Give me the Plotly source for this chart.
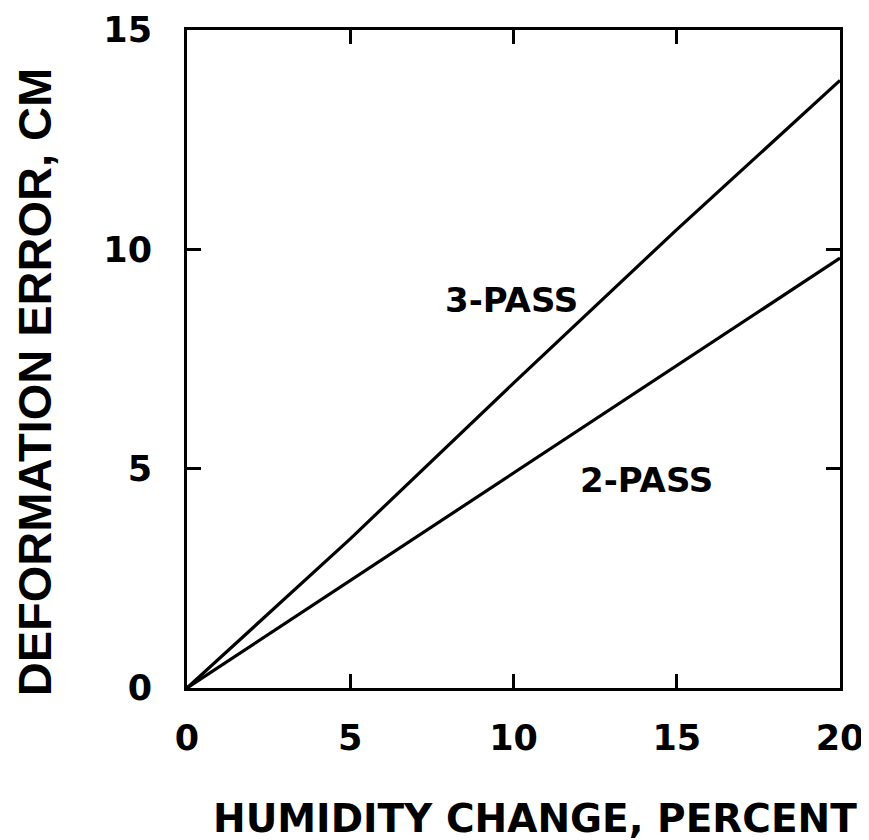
import plotly.graph_objects as go

humidity = [0, 5, 10, 15, 20]
pass3 = [0, 3.4, 6.95, 10.45, 13.85]
pass2 = [0, 2.45, 4.9, 7.35, 9.8]
x_ticks = [0, 5, 10, 15, 20]
y_ticks = [0, 5, 10, 15]
labels = [("3-PASS", 9.95, 8.84), ("2-PASS", 14.06, 4.74)]
x_title = "HUMIDITY CHANGE, PERCENT"
y_title = "DEFORMATION ERROR, CM"

fig = go.Figure()
fig.add_trace(go.Scatter(x=humidity, y=pass3, mode="lines",
                         line=dict(color="black", width=3.2), showlegend=False))
fig.add_trace(go.Scatter(x=humidity, y=pass2, mode="lines",
                         line=dict(color="black", width=3.2), showlegend=False))
for txt, xx, yy in labels:
    fig.add_annotation(x=xx, y=yy, text=txt, showarrow=False,
                       font=dict(family="DejaVu Sans", size=34, color="black", weight="bold"))

fig.add_annotation(xref="paper", yref="paper", x=0.533, y=-0.1976, text=x_title,
                   showarrow=False, xanchor="center", yanchor="middle",
                   font=dict(family="DejaVu Sans", size=39, color="black", weight="bold"))
fig.add_annotation(xref="paper", yref="paper", x=-0.234, y=0.465, text=y_title,
                   textangle=-90, showarrow=False, xanchor="center", yanchor="middle",
                   font=dict(family="Liberation Sans", size=47, color="black", weight="bold"))

tickfont = dict(family="DejaVu Sans", size=35, color="black", weight="bold")
fig.update_xaxes(range=[0, 20], tickvals=x_ticks, ticks="inside", ticklen=14, tickwidth=2.5,
                 tickcolor="black", showline=True, linecolor="black", linewidth=3,
                 mirror="ticks", showgrid=False, zeroline=False, tickfont=tickfont,
                 ticklabelstandoff=17, automargin=False)
fig.update_yaxes(range=[0, 15], tickvals=y_ticks, ticks="inside", ticklen=14, tickwidth=2.5,
                 tickcolor="black", showline=True, linecolor="black", linewidth=3,
                 mirror="ticks", showgrid=False, zeroline=False, tickfont=tickfont,
                 ticklabelstandoff=25, automargin=False)
# page body has an 8px default margin, so the figure is sized to compensate
fig.update_layout(width=861, height=832, plot_bgcolor="white", paper_bgcolor="white",
                  margin=dict(l=179, r=29, t=22, b=152))
fig.write_html("out.html")
